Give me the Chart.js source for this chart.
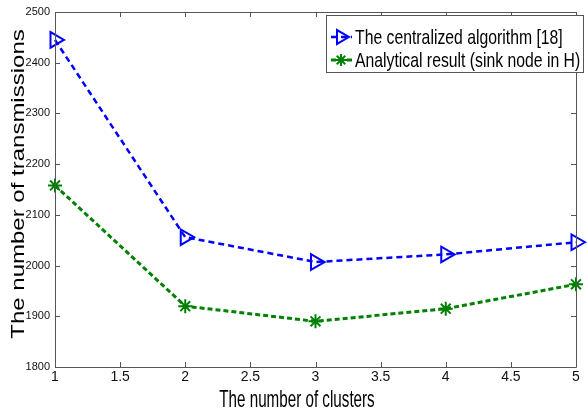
<!DOCTYPE html>
<html>
<head>
<meta charset="utf-8">
<script src="https://cdn.jsdelivr.net/npm/chart.js@4/dist/chart.umd.min.js"></script>
<style>
  html, body { margin: 0; padding: 0; background: #fff; }
  canvas { display: block; }
</style>
</head>
<body>
<canvas id="chart" width="587" height="411"></canvas>
<script>
// Data
const clusters = [1, 2, 3, 4, 5];
const centralized = [2445, 2056, 2007, 2022, 2046];
const analytical = [2158, 1920, 1890, 1915, 1963];
const xTicks = [1, 1.5, 2, 2.5, 3, 3.5, 4, 4.5, 5];
const yTicks = [1800, 1900, 2000, 2100, 2200, 2300, 2400, 2500];
const seriesNames = ["The centralized algorithm [18]", "Analytical result (sink node in H)"];
const xTitle = "The number of clusters";
const yTitle = "The number of transmissions";

const FONT = "'Liberation Sans', Arial, sans-serif";

// Frame, inward ticks, x tick labels, axis titles and legend box (MATLAB look)
const matlabFrame = {
  id: "matlabFrame",
  afterDraw(chart) {
    const ctx = chart.ctx;
    const a = chart.chartArea;
    const xs = chart.scales.x, ys = chart.scales.y;
    ctx.save();
    ctx.strokeStyle = "#555";
    ctx.lineWidth = 1;
    ctx.beginPath();
    ctx.rect(a.left + 0.5, a.top + 0.5, a.right - a.left, a.bottom - a.top);
    xTicks.forEach(v => {
      const px = Math.round(xs.getPixelForValue(v)) + 0.5;
      ctx.moveTo(px, a.bottom); ctx.lineTo(px, a.bottom - 5);
      ctx.moveTo(px, a.top); ctx.lineTo(px, a.top + 5);
    });
    yTicks.forEach(v => {
      const py = Math.round(ys.getPixelForValue(v)) + 0.5;
      ctx.moveTo(a.left, py); ctx.lineTo(a.left + 5, py);
      ctx.moveTo(a.right, py); ctx.lineTo(a.right - 5, py);
    });
    ctx.stroke();

    // x tick labels (the last one runs off the edge, as in the original)
    ctx.fillStyle = "#111";
    ctx.font = "14px " + FONT;
    ctx.textAlign = "center";
    ctx.textBaseline = "top";
    xTicks.forEach(v => {
      ctx.fillText(String(v), xs.getPixelForValue(v), a.bottom + 3);
    });

    // x axis title
    ctx.fillStyle = "#000";
    ctx.font = "19px " + FONT;
    ctx.textAlign = "center";
    ctx.textBaseline = "alphabetic";
    ctx.save();
    ctx.translate(297, 407);
    ctx.scale(0.8, 1.25);
    ctx.fillText(xTitle, 0, 0);
    ctx.restore();

    // y axis title
    ctx.save();
    ctx.translate(24, 184);
    ctx.rotate(-Math.PI / 2);
    ctx.scale(1, 0.8);
    ctx.font = "24px " + FONT;
    ctx.fillText(yTitle, 0, 0);
    ctx.restore();

    // legend box
    ctx.fillStyle = "#fff";
    ctx.fillRect(326, 15, 257, 57);
    ctx.strokeStyle = "#555";
    ctx.strokeRect(326.5, 15.5, 257, 57);
    chart.data.datasets.forEach((ds, i) => {
      const y = 37 + i * 23;
      ctx.save();
      ctx.strokeStyle = ds.borderColor;
      ctx.fillStyle = ds.pointBackgroundColor;
      ctx.lineWidth = ds.borderWidth;
      ctx.setLineDash(ds.borderDash);
      ctx.beginPath();
      ctx.moveTo(331, y); ctx.lineTo(352, y);
      ctx.stroke();
      ctx.setLineDash([]);
      ctx.lineWidth = ds.pointBorderWidth;
      Chart.helpers.drawPoint(ctx, {
        pointStyle: ds.pointStyle,
        rotation: ds.pointRotation,
        radius: ds.pointRadius - 1,
        borderWidth: ds.pointBorderWidth
      }, 341, y);
      ctx.restore();
      ctx.fillStyle = "#000";
      ctx.font = "19px " + FONT;
      ctx.textAlign = "left";
      ctx.textBaseline = "middle";
      ctx.save();
      ctx.translate(355, y + 1);
      ctx.scale(0.83, 1.1);
      ctx.fillText(ds.label, 0, 0);
      ctx.restore();
    });
    ctx.restore();
  }
};

new Chart(document.getElementById("chart"), {
  type: "line",
  data: {
    datasets: [
      {
        label: seriesNames[0],
        data: clusters.map((c, i) => ({ x: c, y: centralized[i] })),
        borderColor: "#0000ff",
        borderWidth: 2.5,
        borderDash: [6, 4],
        pointStyle: "triangle",
        pointRotation: 90,
        pointRadius: 9,
        pointBorderWidth: 2,
        pointBorderColor: "#0000ff",
        pointBackgroundColor: "rgba(255,255,255,0)",
        fill: false,
        clip: false
      },
      {
        label: seriesNames[1],
        data: clusters.map((c, i) => ({ x: c, y: analytical[i] })),
        borderColor: "#008000",
        borderWidth: 3,
        borderDash: [5, 3],
        pointStyle: "star",
        pointRotation: 0,
        pointRadius: 7,
        pointBorderWidth: 2,
        pointBorderColor: "#008000",
        pointBackgroundColor: "#008000",
        fill: false,
        clip: false
      }
    ]
  },
  options: {
    responsive: false,
    animation: false,
    layout: { padding: { top: 12, right: 0, left: 0, bottom: 0 } },
    plugins: {
      legend: { display: false },
      tooltip: { enabled: false }
    },
    scales: {
      x: {
        type: "linear",
        min: 1,
        max: 5,
        grid: { display: false, drawTicks: false, tickLength: 0 },
        border: { display: false },
        afterBuildTicks: s => { s.ticks = xTicks.map(v => ({ value: v })); },
        afterFit: s => { s.height = 44; },
        ticks: { display: false }
      },
      y: {
        min: 1800,
        max: 2500,
        grid: { display: false, drawTicks: false, tickLength: 0 },
        border: { display: false },
        afterBuildTicks: s => { s.ticks = yTicks.map(v => ({ value: v })); },
        afterFit: s => { s.width = 55; s.paddingTop = 0; s.paddingBottom = 0; },
        ticks: {
          padding: 5,
          color: "#111",
          font: { family: FONT, size: 11 },
          callback: v => String(v)
        }
      }
    }
  },
  plugins: [matlabFrame]
});
</script>
</body>
</html>
